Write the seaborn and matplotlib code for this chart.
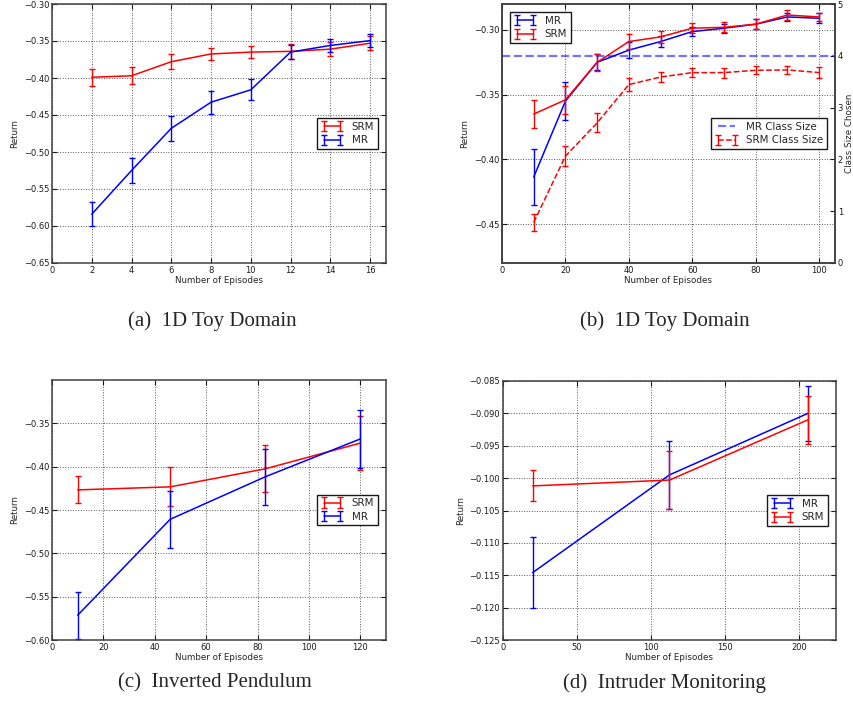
import seaborn as sns
import matplotlib.pyplot as plt

# ---- data ----
# (a) 1D Toy Domain
a_x = [2, 4, 6, 8, 10, 12, 14, 16]
a_srm = [-0.399, -0.397, -0.378, -0.3675, -0.365, -0.364, -0.361, -0.353]
a_srm_err = [0.0115, 0.0117, 0.0099, 0.0085, 0.0085, 0.0097, 0.0097, 0.0097]
a_mr = [-0.584, -0.525, -0.468, -0.4327, -0.416, -0.365, -0.356, -0.3495]
a_mr_err = [0.0158, 0.0175, 0.0166, 0.0153, 0.014, 0.009, 0.0088, 0.0085]

# (b) 1D Toy Domain with class size
b_x = [10, 20, 30, 40, 50, 60, 70, 80, 90, 100]
b_mr = [-0.4136, -0.355, -0.325, -0.3156, -0.309, -0.3013, -0.2987, -0.2956, -0.290, -0.291]
b_mr_err = [0.0217, 0.0145, 0.0063, 0.006, 0.004, 0.0036, 0.0036, 0.004, 0.003, 0.0037]
b_srm = [-0.365, -0.354, -0.325, -0.309, -0.3054, -0.2987, -0.298, -0.2956, -0.2885, -0.290]
b_srm_err = [0.0105, 0.011, 0.0067, 0.0056, 0.0044, 0.004, 0.004, 0.004, 0.0036, 0.003]
b_mr_size = 4
b_srm_size = [0.784, 2.063, 2.705, 3.445, 3.59, 3.676, 3.676, 3.72, 3.727, 3.676]
b_srm_size_err = [0.157, 0.2, 0.185, 0.125, 0.1, 0.08, 0.096, 0.077, 0.083, 0.1]

# (c) Inverted Pendulum
c_x = [10, 46, 83, 120]
c_srm = [-0.4268, -0.4233, -0.4025, -0.3728]
c_srm_err = [0.0156, 0.0224, 0.027, 0.031]
c_mr = [-0.5714, -0.4607, -0.4117, -0.368]
c_mr_err = [0.027, 0.0328, 0.0322, 0.033]

# (d) Intruder Monitoring
d_x = [20, 112.5, 206]
d_mr = [-0.1146, -0.0995, -0.0900]
d_mr_err = [0.0055, 0.0052, 0.0043]
d_srm = [-0.1012, -0.1003, -0.0910]
d_srm_err = [0.0024, 0.0045, 0.0037]

captions = ['(a)  1D Toy Domain', '(b)  1D Toy Domain',
            '(c)  Inverted Pendulum', '(d)  Intruder Monitoring']

sns.set_theme(style='ticks', rc={
    'xtick.direction': 'in', 'ytick.direction': 'in',
    'xtick.top': True, 'ytick.right': True,
    'xtick.major.size': 3.5, 'ytick.major.size': 3.5,
    'xtick.major.width': 0.8, 'ytick.major.width': 0.8,
    'axes.edgecolor': '0.25', 'axes.linewidth': 1.1,
})
plt.rcParams['font.family'] = 'DejaVu Sans'

TICK_FS = 6
LABEL_FS = 6.3
LEG_FS = 7.4
RED = '#ff0000'
BLUE = '#0000ff'

W, H = 854, 717
fig = plt.figure(figsize=(W / 100, H / 100), dpi=100)


def box(l, t, r, b):
    return [l / W, 1 - b / H, (r - l) / W, (b - t) / H]


def series(ax, x, y, err, color, ls='-'):
    sns.lineplot(x=x, y=y, ax=ax, color=color, linestyle=ls, linewidth=1.1, legend=False)
    line = ax.get_lines()[-1]
    bars = ax.errorbar(x, y, yerr=err, fmt='none', ecolor=color, elinewidth=1,
                       capsize=2, capthick=1)
    return (line, bars)


def style(ax, xt, yt, xlim, ylim):
    ax.set_xlim(*xlim)
    ax.set_ylim(*ylim)
    ax.set_xticks(xt)
    ax.set_yticks(yt)
    ax.ticklabel_format(useOffset=False, axis='y')
    ax.grid(True, color='0.35', linestyle=':', linewidth=0.7)
    ax.tick_params(labelsize=TICK_FS, colors='k', pad=2)
    ax.set_xlabel('Number of Episodes', fontsize=LABEL_FS, labelpad=1)
    ax.set_ylabel('Return', fontsize=LABEL_FS, labelpad=3)


def legend(ax, handles, labels, loc):
    leg = ax.legend(handles, labels, loc=loc, numpoints=2, fontsize=LEG_FS,
                    fancybox=False, edgecolor='k', framealpha=1, handlelength=2.2,
                    borderpad=0.35, labelspacing=0.35, borderaxespad=0.8)
    leg.get_frame().set_linewidth(1.0)
    return leg


# (a)
ax = fig.add_axes(box(52, 4, 386, 263))
h_srm = series(ax, a_x, a_srm, a_srm_err, RED)
h_mr = series(ax, a_x, a_mr, a_mr_err, BLUE)
style(ax, range(0, 17, 2), [-0.65, -0.60, -0.55, -0.50, -0.45, -0.40, -0.35, -0.30],
      (0, 16.8), (-0.65, -0.30))
legend(ax, [h_srm, h_mr], ['SRM', 'MR'], 'center right')

# (b)
ax = fig.add_axes(box(502, 4, 835, 263))
h_mr = series(ax, b_x, b_mr, b_mr_err, BLUE)
h_srm = series(ax, b_x, b_srm, b_srm_err, RED)
style(ax, range(0, 101, 20), [-0.45, -0.40, -0.35, -0.30], (0, 105), (-0.48, -0.28))
ax.tick_params(right=False)
legend(ax, [h_mr, h_srm], ['MR', 'SRM'], 'upper left')
ax2 = ax.twinx()
h_mrs = ax2.axhline(b_mr_size, color=BLUE, alpha=0.55, linestyle='--', linewidth=1.6)
h_srms = series(ax2, b_x, b_srm_size, b_srm_size_err, RED, ls='--')
ax2.set_ylim(0, 5)
ax2.set_yticks(range(0, 6))
ax2.tick_params(labelsize=TICK_FS, colors='k', pad=2, right=True)
ax2.set_ylabel('Class Size Chosen', fontsize=LABEL_FS, labelpad=1)
legend(ax2, [h_mrs, h_srms], ['MR Class Size', 'SRM Class Size'], 'center right')

# (c)
ax = fig.add_axes(box(52, 380, 386, 640))
h_srm = series(ax, c_x, c_srm, c_srm_err, RED)
h_mr = series(ax, c_x, c_mr, c_mr_err, BLUE)
style(ax, range(0, 121, 20), [-0.60, -0.55, -0.50, -0.45, -0.40, -0.35],
      (0, 130), (-0.60, -0.30))
legend(ax, [h_srm, h_mr], ['SRM', 'MR'], 'center right')

# (d)
ax = fig.add_axes(box(503, 381, 836, 640))
h_mr = series(ax, d_x, d_mr, d_mr_err, BLUE)
h_srm = series(ax, d_x, d_srm, d_srm_err, RED)
style(ax, range(0, 201, 50),
      [-0.125, -0.120, -0.115, -0.110, -0.105, -0.100, -0.095, -0.090, -0.085],
      (0, 225), (-0.125, -0.085))
legend(ax, [h_mr, h_srm], ['MR', 'SRM'], 'center right')

# sub-captions
cap_pos = [(212, 321), (665, 321), (215, 683), (664, 683)]
for (cx, cy), text in zip(cap_pos, captions):
    fig.text(cx / W, 1 - cy / H, text, ha='center', va='center',
             fontsize=15, family='Liberation Serif')

fig.savefig('out.png', dpi=100)
